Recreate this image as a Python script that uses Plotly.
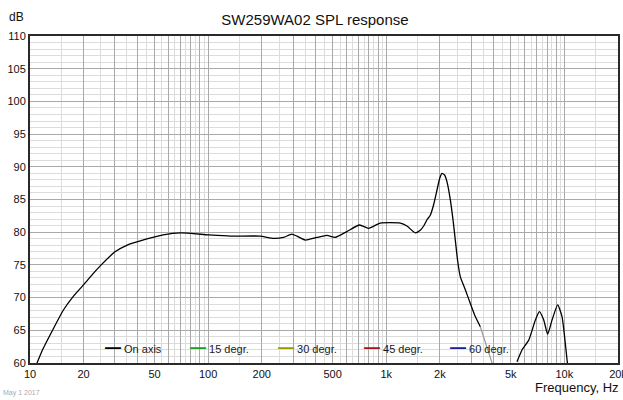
import plotly.graph_objects as go
import math

# ---------------- data ----------------
freq_on_axis = [10.95, 11.8, 13.5, 15.4, 17.5, 19.9, 22.5, 25.1, 30.0, 34.9, 44.3, 56.0, 70.0,
                100.0, 133.0, 196.0, 233.0, 265.0, 295.0, 315.0, 351.0, 408.0, 465.0, 517.0,
                601.0, 708.0, 796.0, 925.0, 1200.0, 1307.0, 1455.0, 1552.0, 1622.0, 1693.0,
                1767.0, 1845.0, 1927.0, 1994.0, 2055.0, 2126.0, 2193.0, 2291.0, 2370.0, 2441.0,
                2513.0, 2604.0, 2779.0, 2965.0, 3162.0, 3373.0,
                None,
                5420.0, 5808.0, 6310.0, 6880.0, 7240.0, 7650.0, 8060.0, 8530.0, 9170.0, 9700.0,
                10350.0, 10600.0]
spl_on_axis = [60.0, 62.1, 65.2, 68.1, 70.2, 71.9, 73.6, 75.0, 77.0, 78.0, 78.9, 79.6, 79.9,
               79.6, 79.4, 79.4, 79.05, 79.2, 79.7, 79.4, 78.8, 79.2, 79.5, 79.2,
               80.1, 81.1, 80.6, 81.4, 81.4, 80.95, 79.9, 80.3, 80.95, 81.9,
               82.6, 84.2, 86.45, 88.2, 89.0, 88.75, 87.7, 84.9, 81.9, 78.8,
               75.75, 73.2, 71.2, 69.1, 67.1, 65.55,
               None,
               60.2, 62.1, 63.5, 66.6, 67.85, 66.6, 64.4, 66.6, 68.9, 67.1,
               60.5, 58.0]

# continuation of the on-axis roll-off (drawn in gray in the source)
freq_tail = [3373.0, 3597.0, 3927.0, 4100.0]
spl_tail = [65.55, 63.05, 60.0, 59.2]

series_names = ["On axis", "15 degr.", "30 degr.", "45 degr.", "60 degr."]
series_colors = ["#000000", "#1e9a1e", "#9a9a00", "#a01818", "#1c1c96"]

x_tick_labels = {10: "10", 20: "20", 50: "50", 100: "100", 200: "200", 500: "500",
                 1000: "1k", 2000: "2k", 5000: "5k", 10000: "10k", 20000: "20k"}
y_ticks = list(range(60, 111, 5))

title_text = "SW259WA02 SPL response"
date_text = "May 1 2017"

# ---------------- figure ----------------
FONT = "Liberation Sans, Arial, sans-serif"
fig = go.Figure()

fig.add_trace(go.Scatter(x=freq_tail, y=spl_tail, mode="lines",
                         line=dict(color="#9a9a9a", width=1.2),
                         showlegend=False, hoverinfo="skip"))
fig.add_trace(go.Scatter(x=freq_on_axis, y=spl_on_axis, mode="lines", name=series_names[0],
                         line=dict(color=series_colors[0], width=1.3, shape="spline", smoothing=0.5),
                         connectgaps=False, showlegend=False))

# grid values
major_x, minor_x = [], []
for dec in [10, 100, 1000, 10000]:
    for m in range(1, 10):
        v = m * dec
        if v <= 20000:
            major_x.append(v)
        h = (m + 0.5) * dec
        if h <= 20000:
            minor_x.append(h)
tick_text = [x_tick_labels.get(v, "") for v in major_x]

fig.update_xaxes(type="log", range=[1, math.log10(20000)], automargin=False,
                 tickvals=major_x, ticktext=tick_text, ticklabeloverflow="allow",
                 showgrid=True, gridcolor="#a9a9a9", gridwidth=1,
                 minor=dict(tickvals=minor_x, showgrid=True, gridcolor="#dcdcdc", gridwidth=1, ticklen=0),
                 showline=True, mirror=True, linecolor="#2a2a2a", linewidth=2,
                 ticks="", tickfont=dict(size=11, color="#111", family=FONT),
                 zeroline=False)
fig.update_yaxes(range=[60, 110], tickvals=y_ticks, automargin=False,
                 showgrid=True, gridcolor="#a9a9a9", gridwidth=1,
                 minor=dict(dtick=1, showgrid=True, gridcolor="#dcdcdc", gridwidth=1, ticklen=0),
                 showline=True, mirror=True, linecolor="#2a2a2a", linewidth=2,
                 ticks="", tickfont=dict(size=11, color="#111", family=FONT),
                 zeroline=False)

L, R, T, B = 30, 5, 36, 37
W, H = 623, 400
PW, PH = W - L - R, H - T - B


def px_x(px):
    return (px - L) / PW


def px_y(py):
    return (H - B - py) / PH


annotations = []
# legend (built from names/colors)
legend_left = [103, 188, 276, 362, 448]
for name, col, lx in zip(series_names, series_colors, legend_left):
    annotations.append(dict(
        x=px_x(lx), y=px_y(347), xref="paper", yref="paper", xanchor="left", yanchor="middle",
        text=f"<span style='color:{col};font-size:16px'><b>—</b></span> {name}",
        showarrow=False, font=dict(size=11, color="#1a1a1a", family=FONT)))

annotations += [
    dict(x=px_x(16.5), y=px_y(17.5), xref="paper", yref="paper", xanchor="center", yanchor="middle",
         text="dB", showarrow=False, font=dict(size=12, color="#111", family=FONT)),
    dict(x=px_x(621), y=px_y(387), xref="paper", yref="paper", xanchor="right", yanchor="middle",
         text="Frequency, Hz", showarrow=False, font=dict(size=13, color="#111", family=FONT)),
    dict(x=px_x(1), y=px_y(393), xref="paper", yref="paper", xanchor="left", yanchor="middle",
         text=date_text, showarrow=False, font=dict(size=7, color="#aaaaaa", family=FONT)),
]

fig.update_layout(
    width=W, height=H,
    margin=dict(l=L, r=R, t=T, b=B, pad=0, autoexpand=False),
    paper_bgcolor="white", plot_bgcolor="white",
    title=dict(text=title_text, x=315 / W, xanchor="center", y=1 - 20 / H, yanchor="middle",
               font=dict(size=15, color="#111", family=FONT)),
    showlegend=False,
    annotations=annotations,
    shapes=[dict(type="rect", xref="paper", yref="paper",
                 x0=px_x(94), x1=px_x(516), y0=px_y(357), y1=px_y(328),
                 fillcolor="white", line=dict(width=0), layer="between")],
    font=dict(family=FONT),
)

fig.write_html("out.html", config={"displayModeBar": False},
               post_script="document.body.style.margin='0';document.body.style.overflow='hidden';")
